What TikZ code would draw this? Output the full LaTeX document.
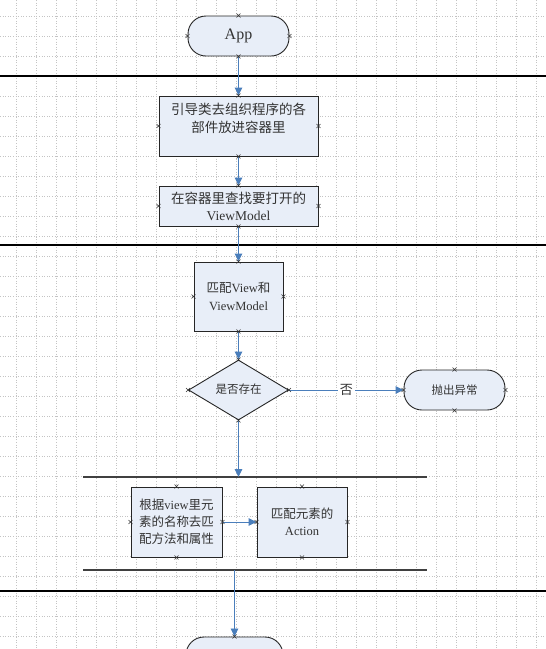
\documentclass[tikz,border=0pt]{standalone}
\usepackage{fontspec}
\setmainfont{Liberation Serif}
\newfontfamily\cjk{Noto Sans CJK SC}
\usetikzlibrary{arrows.meta,shapes.geometric}
\definecolor{boxfill}{HTML}{E8EEF8}
\definecolor{arrowblue}{HTML}{4A7EBB}
\definecolor{gridgray}{HTML}{C4C4C4}
\definecolor{txtgray}{HTML}{333333}
\begin{document}
\begin{tikzpicture}[x=1pt,y=-1pt,
  box/.style={draw=black!85,line width=0.9pt,fill=boxfill,rectangle,inner sep=0pt,text=txtgray,align=center},
  term/.style={box,rounded corners=18pt},
  dia/.style={draw=black!85,line width=0.9pt,fill=boxfill,diamond,inner sep=0pt,text=txtgray},
  lbl/.style={inner sep=0pt,text=txtgray,align=center},
  conn/.style={draw=arrowblue,line width=1.4pt,-{Triangle[length=8pt,width=7.5pt]}},
  connthin/.style={draw=arrowblue,line width=0.9pt,-{Triangle[length=8pt,width=7.5pt]}},
  sep/.style={draw=black,line width=1.3pt},
  lane/.style={draw=black!75,line width=1.1pt},
  xpt/.pic={\draw[black!80,line width=0.5pt] (-2,-2)--(2,2) (-2,2)--(2,-2);}
]
\clip (0,0) rectangle (546,649);
\fill[white] (0,0) rectangle (546,649);
% grid
\foreach \i in {0,...,26} {
  \draw[gridgray,line width=0.7pt,dash pattern=on 1pt off 1.6pt] (16.7+20*\i,0) -- (16.7+20*\i,649);
}
\foreach \j in {0,...,31} {
  \draw[gridgray,line width=0.7pt,dash pattern=on 1pt off 1.6pt] (0,16.7+20*\j) -- (546,16.7+20*\j);
}
% separators
\draw[sep] (0,76) -- (546,76);
\draw[sep,line width=1.5pt] (0,245) -- (546,245);
\draw[lane] (83,477) -- (427,477);
\draw[lane] (83,570) -- (427,570);
\draw[sep] (0,591) -- (546,591);

% nodes
\node[term,minimum width=101,minimum height=40,font=\fontsize{16}{18}\selectfont] (app) at (238.5,36) {App};
\node[box,minimum width=159,minimum height=60] (b1) at (238.5,126) {};
\node[lbl,font=\fontsize{13.5}{18}\selectfont] (b1t) at (238.5,118.5) {{\cjk 引导类去组织程序的各}\\{\cjk 部件放进容器里}};
\node[box,minimum width=159,minimum height=40,font=\fontsize{13.5}{17}\selectfont] (b2) at (238.5,206) {{\cjk 在容器里查找要打开的}\\ViewModel};
\node[box,minimum width=89,minimum height=69,font=\fontsize{12.5}{17.5}\selectfont] (b3) at (238.5,296.5) {{\cjk 匹配}View{\cjk 和}\\ViewModel};
\node[dia,minimum width=100,minimum height=60,font=\fontsize{11.5}{13}\selectfont] (d) at (238.5,390) {};
\node[lbl,font=\fontsize{11.5}{13}\selectfont] (dt) at (238.5,389) {\cjk 是否存在};
\node[term,minimum width=101,minimum height=40,font=\fontsize{11.5}{13}\selectfont] (err) at (454.5,390) {\cjk 抛出异常};
\node[box,minimum width=91,minimum height=70,font=\fontsize{12.5}{17}\selectfont] (b4) at (176.5,522) {{\cjk 根据}view{\cjk 里元}\\{\cjk 素的名称去匹}\\{\cjk 配方法和属性}};
\node[box,minimum width=90,minimum height=70,font=\fontsize{12.5}{16.5}\selectfont] (b5) at (302,522) {{\cjk 匹配元素的}\\Action};
\node[term,minimum width=97,minimum height=40] (end) at (234.5,657) {};

\coordinate (lanetop) at (238.5,477);
\coordinate (lanebot) at (234.5,570);

% connectors
\draw[conn] (app.south) -- (b1.north);
\draw[conn] (b1.south) -- (b2.north);
\draw[conn] (b2.south) -- (b3.north);
\draw[conn] (b3.south) -- (d.north);
\draw[connthin] (d.south) -- (lanetop);
\draw[connthin] (d.east) -- node[lbl,fill=white,inner xsep=2pt,inner ysep=1pt,font=\fontsize{13}{14}\selectfont] (no) {\cjk 否} (err.west);
\draw[connthin] (b4.east) -- (b5.west);
\draw[connthin,line width=0.8pt] (lanebot) -- (end.north);

% connection points
\foreach \n in {app,b1,b2,b3,b4,b5,err} {
  \pic at (\n.north) {xpt};
  \pic at (\n.south) {xpt};
  \pic at (\n.west) {xpt};
  \pic at (\n.east) {xpt};
}
\pic at (d.north) {xpt};
\pic at (d.south) {xpt};
\pic at (d.west) {xpt};
\pic at (d.east) {xpt};
\pic at (end.north) {xpt};
\end{tikzpicture}
\end{document}
